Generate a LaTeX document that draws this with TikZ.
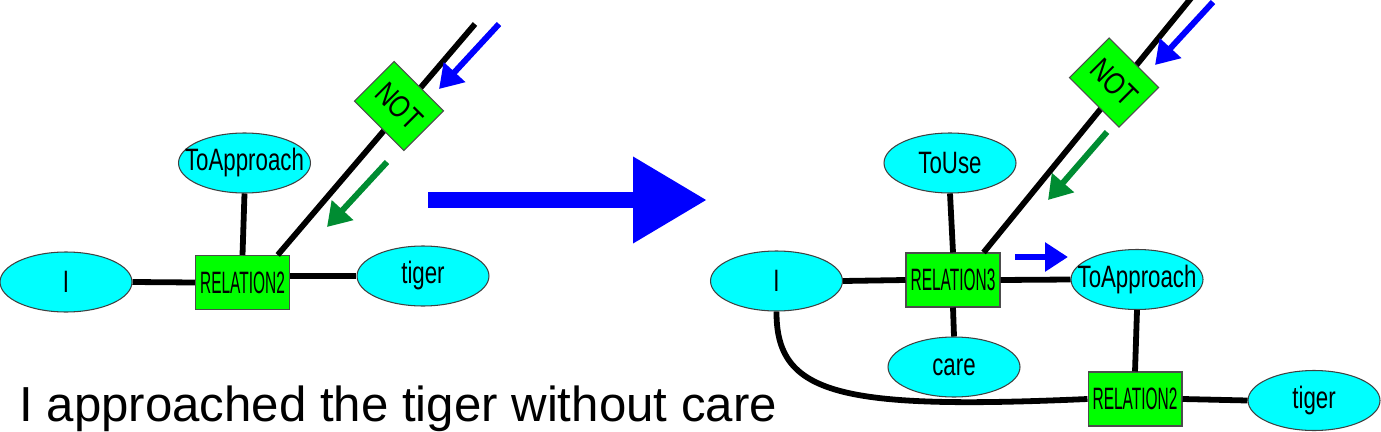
\documentclass[tikz,border=0pt]{standalone}
\usepackage{fontspec}
\setmainfont{Liberation Sans}
\newfontfamily\conceptfont[FakeStretch=0.72]{Liberation Sans}
\newfontfamily\relationfont[FakeStretch=0.5]{Liberation Sans}
\newfontfamily\notfont[FakeStretch=0.8]{Liberation Sans}
\usetikzlibrary{shapes.geometric,arrows.meta}

\definecolor{conceptfill}{RGB}{0,255,255}
\definecolor{relationfill}{RGB}{0,255,0}
\definecolor{markgreen}{RGB}{0,140,50}
\definecolor{markblue}{RGB}{0,0,255}

\tikzset{
  concept/.style={ellipse,draw=black!75,line width=0.6pt,fill=conceptfill,
    minimum width=2.64cm,minimum height=1.2cm,inner xsep=-0.45cm,inner ysep=0pt,
    font=\conceptfont\fontsize{17.6}{20}\selectfont},
  relation/.style={rectangle,draw=black!70,line width=0.6pt,fill=relationfill,
    minimum width=1.88cm,minimum height=1.08cm,inner sep=0pt,
    font=\relationfont\fontsize{17.6}{20}\selectfont},
  negation/.style={relation,minimum width=1.4cm,minimum height=1.12cm,rotate=-45,
    font=\notfont\fontsize{17.6}{20}\selectfont},
  link/.style={line width=3.3pt},
  flow/.style={line width=3.4pt,-{Triangle[length=0.46cm,width=0.56cm]}},
  bigflow/.style={line width=0.34cm,markblue,-{Triangle[length=1.48cm,width=1.64cm]}},
}

\begin{document}
\begin{tikzpicture}[x=0.02cm,y=-0.02cm]
\useasboundingbox (0,0) rectangle (1381,432);

\node[concept] (iL) at (66,282) {I};
\node[relation] (rel2L) at (242.5,282.5) {RELATION2};
\node[concept] (toappL) at (244.5,163) {ToApproach};
\node[concept] (tigerL) at (423,276) {tiger};
\coordinate (endL) at (475,24);
\draw[link] (iL.east) -- (rel2L.west);
\draw[link] (tigerL.west) -- (tigerL.west -| rel2L.east);
\draw[link] (toappL.south) -- (rel2L.north);
\draw[link] (rel2L.38) -- (endL);
\node[negation] (notL) at (399,106) {NOT};

\coordinate (blueLa) at (499,24);
\coordinate (blueLb) at (439,89);
\coordinate (greenLa) at (387,162);
\coordinate (greenLb) at (327,227);
\draw[flow,markblue] (blueLa) -- (blueLb);
\draw[flow,markgreen] (greenLa) -- (greenLb);

\coordinate (bigA) at (428,200);
\coordinate (bigB) at (707,200);
\draw[bigflow] (bigA) -- (bigB);

\node[concept] (iR) at (776.5,281) {I};
\node[relation] (rel3R) at (953,280) {RELATION3};
\node[concept] (touseR) at (950,163) {ToUse};
\node[concept] (careR) at (954,367) {care};
\node[concept] (toappR) at (1137,279.5) {ToApproach};
\node[relation] (rel2R) at (1135,399) {RELATION2};
\node[concept] (tigerR) at (1314,400.5) {tiger};
\coordinate (endR) at (1192,-3);
\draw[link] (iR.east) -- (rel3R.west);
\draw[link] (rel3R.east) -- (toappR.west);
\draw[link] (touseR.south) -- (rel3R.north);
\draw[link] (rel3R.south) -- (careR.north);
\draw[link] (toappR.south) -- (rel2R.north);
\draw[link] (rel2R.east) -- (tigerR.west);
\draw[link] (iR.south) .. controls (776,395) and (840,410) .. (rel2R.west);
\draw[link] (rel3R.42) -- (endR);
\node[negation] (notR) at (1114,82.5) {NOT};

\coordinate (blueRa) at (1213,2);
\coordinate (blueRb) at (1155,65);
\coordinate (greenRa) at (1107,132);
\coordinate (greenRb) at (1048,200);
\coordinate (blueSa) at (1015,257);
\coordinate (blueSb) at (1068,257);
\draw[flow,markblue] (blueRa) -- (blueRb);
\draw[flow,markgreen] (greenRa) -- (greenRb);
\draw[flow,markblue] (blueSa) -- (blueSb);

\node[anchor=base west,inner sep=0pt,font=\fontsize{28}{32}\selectfont] (caption) at (19,421) {I approached the tiger without care};
\end{tikzpicture}
\end{document}
